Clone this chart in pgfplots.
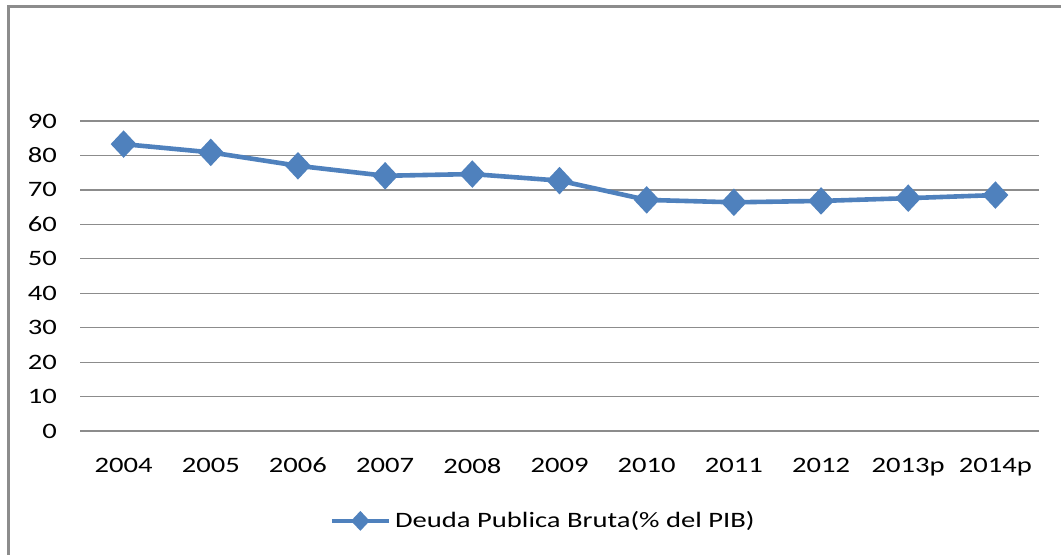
\documentclass[border=0pt]{standalone}
\usepackage{pgfplots}
\pgfplotsset{compat=1.18}
\usepackage{fontspec}
\setmainfont[FakeStretch=1.3]{Carlito}
\definecolor{serie}{HTML}{4F81BD}
\definecolor{gridc}{HTML}{8C8C8C}
\begin{document}
\begin{tikzpicture}[x=1pt,y=1pt]
\clip (0,0) rectangle (530.5,277);
\fill[white] (0,0) rectangle (530.5,277);
\draw[gridc,line width=1.5pt] (4,-10) -- (4,274) -- (545,274);
\begin{axis}[
  at={(40pt,61.5pt)}, anchor=south west,
  scale only axis, width=479.5pt, height=155pt,
  xmin=-0.5, xmax=10.5, ymin=0, ymax=90,
  xtick={0,...,10},
  xticklabels={2004,2005,2006,2007,2008,2009,2010,2011,2012,2013p,2014p},
  ytick={0,10,...,90},
  ymajorgrids, major grid style={gridc,line width=0.6pt},
  axis line style={draw=none},
  major tick length=0pt,
  tick label style={font=\fontsize{11}{13}\selectfont},
  /pgf/number format/assume math mode=true,
  yticklabel style={xshift=-8pt},
  xticklabel style={yshift=-10pt},
  legend style={at={(0.484,-0.29)}, anchor=center, draw=none, fill=none,
    font=\fontsize{11}{13}\selectfont, legend cell align=left},
  legend image code/.code={\draw[mark repeat=2,mark phase=2,mark size=3.3pt] plot coordinates {(0cm,0cm) (0.5cm,0cm) (1.0cm,0cm)};},
]
\addplot[color=serie, line width=2.3pt, mark=diamond*, mark size=5.2pt,
  mark options={solid,xscale=1.25}]
  coordinates {(0,83.3) (1,80.9) (2,77.0) (3,74.1) (4,74.6) (5,72.7) (6,67.1) (7,66.4) (8,66.8) (9,67.6) (10,68.5)};
\addlegendentry{Deuda Publica Bruta(\% del PIB)}
\end{axis}
\end{tikzpicture}
\end{document}
